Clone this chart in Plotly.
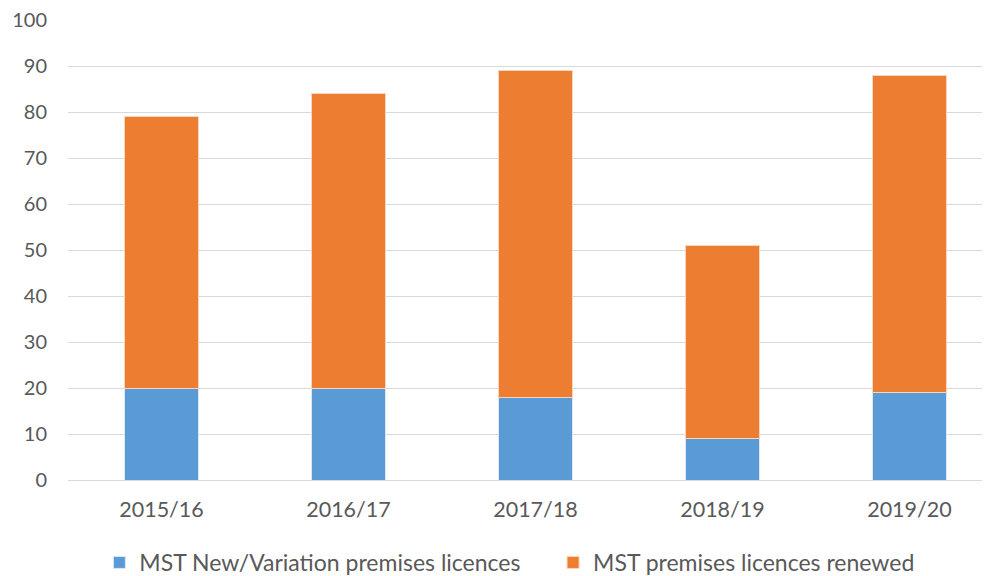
import plotly.graph_objects as go

categories = ["2015/16", "2016/17", "2017/18", "2018/19", "2019/20"]
new_variation = [20, 20, 18, 9, 19]
renewed = [59, 64, 71, 42, 69]
y_ticks = [0, 10, 20, 30, 40, 50, 60, 70, 80, 90, 100]

fig = go.Figure()
fig.add_trace(go.Bar(
    x=categories, y=new_variation, name="MST New/Variation premises licences",
    marker=dict(color="#5B9BD5", line=dict(color="#DCE9F5", width=1)),
    legend="legend",
))
fig.add_trace(go.Bar(
    x=categories, y=renewed, name="MST premises licences renewed",
    marker=dict(color="#ED7D31", line=dict(color="#F8D5BE", width=1)),
    legend="legend2",
))

# The page body adds an 8px offset, so the figure is placed to compensate.
font_family = "Lato, Open Sans, sans-serif"
legend_common = dict(orientation="h", xref="container", xanchor="left",
                     y=0.0, yref="container", yanchor="bottom",
                     font=dict(size=23, color="#595959"), itemwidth=30,
                     bgcolor="rgba(0,0,0,0)")
fig.update_layout(
    barmode="stack",
    bargap=0.604,
    width=974, height=576,
    margin=dict(l=60, r=0, t=12, b=104, autoexpand=False),
    plot_bgcolor="white", paper_bgcolor="white",
    font=dict(family=font_family, size=20, color="#595959"),
    showlegend=True,
    legend=dict(legend_common, x=0.0938),
    legend2=dict(legend_common, x=0.5596),
    xaxis=dict(range=[-0.5, 4.388], showgrid=False, showline=False,
               automargin=False, ticklabeloverflow="allow",
               ticks="", tickfont=dict(size=21.5, color="#595959"),
               ticklabelstandoff=14),
    yaxis=dict(range=[0, 100], tickvals=y_ticks, showgrid=True,
               automargin=False, ticklabeloverflow="allow",
               gridcolor="#D9D9D9", gridwidth=1, zeroline=True,
               zerolinecolor="#D9D9D9", zerolinewidth=1, showline=False,
               ticks="", tickfont=dict(size=20, color="#595959"),
               ticklabelstandoff=20),
)

fig.write_html("out.html")
